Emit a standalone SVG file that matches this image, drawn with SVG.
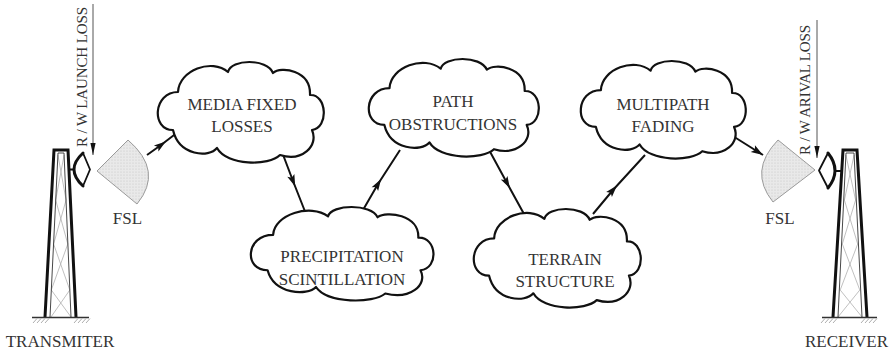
<svg xmlns="http://www.w3.org/2000/svg" xmlns:xlink="http://www.w3.org/1999/xlink" width="895" height="352" viewBox="0 0 895 352">
  <style>
    .lbl { font-family: "Liberation Serif", "Times New Roman", serif; font-size: 17px; fill: #333; text-anchor: middle; }
    .vlbl { font-family: "Liberation Serif", "Times New Roman", serif; font-size: 15px; fill: #333; }
    .cloud { fill: #fff; stroke: #111; stroke-width: 2.2; vector-effect: non-scaling-stroke; stroke-linejoin: round; }
    .conn { fill: none; stroke: #111; stroke-width: 2; }
    .leg { fill: none; stroke: #111; stroke-width: 3; stroke-linejoin: miter; }
    .inner { fill: none; stroke: #333; stroke-width: 0.9; }
    .lattice { fill: none; stroke: #b0b0b0; stroke-width: 0.8; }
    .ground { stroke: #333; stroke-width: 1.5; }
    .hatch { stroke: #999; stroke-width: 0.8; }
    .beam { fill: url(#stipple); stroke: #9a9a9a; stroke-width: 1; }
    .dishback { fill: none; stroke: #111; stroke-width: 3; stroke-linecap: round; }
    .dishfront { fill: none; stroke: #111; stroke-width: 1.8; stroke-linejoin: round; }
    .guide { stroke: #555; stroke-width: 1; }
  </style>
  <defs>
    <!-- generic cloud outline in a 166 x 100 box -->
    <path id="cloud" class="cloud" d="M16,68 C-6,68 -4,30 21,30 C22,8 55,-4 71,10 C74,-3 110,-4 116,11 C124,4 154,8 153,33 C170,32 172,66 155,68 C162,84 145,100 123,93 C112,104 70,104 60,86 C52,96 22,94 16,68 Z"/>
    <marker id="midArrow" markerUnits="userSpaceOnUse" markerWidth="14" markerHeight="10" orient="auto" overflow="visible">
      <path d="M-6,-3.8 L6,0 L-6,3.8 L-3.5,0 Z" fill="#111"/>
    </marker>
    <marker id="endArrow" markerUnits="userSpaceOnUse" markerWidth="14" markerHeight="10" orient="auto" overflow="visible">
      <path d="M-12,-4 L0,0 L-12,4 L-9.5,0 Z" fill="#111"/>
    </marker>
    <marker id="thinArrow" markerUnits="userSpaceOnUse" markerWidth="14" markerHeight="8" orient="auto" overflow="visible">
      <path d="M-12,-2.6 L0,0 L-12,2.6 Z" fill="#111"/>
    </marker>
    <pattern id="stipple" patternUnits="userSpaceOnUse" width="3" height="3">
      <rect width="3" height="3" fill="#e9e9e9"/>
      <circle cx="1" cy="1" r="0.6" fill="#c4c4c4"/>
    </pattern>
  </defs>

  <!-- transmitter tower -->
  <g id="transmitter">
    <polyline class="lattice" points="57.9,155 66.1,200 53.6,244 69.8,290 51,317"/>
    <polyline class="lattice" points="64.1,155 55.7,200 67.8,244 51.3,290 71,317"/>
    <polyline class="inner" points="50,317 58,153 64,153 71,317"/>
    <polyline class="leg" points="45,317 54,150 68,150 76,317"/>
    <line class="ground" x1="32" y1="317.5" x2="89" y2="317.5"/>
    <g class="hatch">
      <line x1="33" y1="323" x2="37" y2="318.5"/><line x1="37" y1="323" x2="41" y2="318.5"/>
      <line x1="41" y1="323" x2="45" y2="318.5"/><line x1="45" y1="323" x2="49" y2="318.5"/>
      <line x1="74" y1="323" x2="78" y2="318.5"/><line x1="78" y1="323" x2="82" y2="318.5"/>
      <line x1="82" y1="323" x2="86" y2="318.5"/><line x1="86" y1="323" x2="90" y2="318.5"/>
    </g>
    <line x1="68" y1="169.5" x2="74" y2="169.5" stroke="#111" stroke-width="2"/>
    <path class="dishback" d="M83,153 Q65,169.5 83,186"/>
    <path class="dishfront" d="M83,153 L90,169.5 L83,186"/>
    <text class="lbl" x="60" y="347">TRANSMITER</text>
  </g>

  <!-- launch loss indicator -->
  <g id="launch-loss">
    <line class="guide" x1="93" y1="4" x2="93" y2="155" marker-end="url(#thinArrow)"/>
    <text class="vlbl" transform="translate(87,147) rotate(-90)" textLength="140" lengthAdjust="spacing">R / W  LAUNCH LOSS</text>
  </g>

  <!-- transmit free space loss -->
  <g id="fsl-tx">
    <path class="beam" d="M97,171 L128,140 Q164,171 137,204 Z"/>
    <text class="lbl" x="127.5" y="224">FSL</text>
  </g>

  <!-- receiver tower -->
  <g id="receiver">
    <polyline class="lattice" points="845.9,155 855.6,200 842.3,244 859.8,290 838,317"/>
    <polyline class="lattice" points="854.1,155 844.4,200 857.7,244 840.2,290 862,317"/>
    <polyline class="inner" points="838,317 846,153 854,153 862,317"/>
    <polyline class="leg" points="833,317 843,150 857,150 867,317"/>
    <line class="ground" x1="822" y1="317.5" x2="877" y2="317.5"/>
    <g class="hatch">
      <line x1="821" y1="323" x2="825" y2="318.5"/><line x1="825" y1="323" x2="829" y2="318.5"/>
      <line x1="829" y1="323" x2="833" y2="318.5"/><line x1="833" y1="323" x2="837" y2="318.5"/>
      <line x1="861" y1="323" x2="865" y2="318.5"/><line x1="865" y1="323" x2="869" y2="318.5"/>
      <line x1="869" y1="323" x2="873" y2="318.5"/><line x1="873" y1="323" x2="877" y2="318.5"/>
    </g>
    <line x1="836" y1="171" x2="843" y2="171" stroke="#111" stroke-width="2"/>
    <path class="dishback" d="M828,153 Q842,170.5 828,188"/>
    <path class="dishfront" d="M828,153 L819,170.5 L828,188"/>
    <text class="lbl" x="846.5" y="347">RECEIVER</text>
  </g>

  <!-- arrival loss indicator -->
  <g id="arrival-loss">
    <line class="guide" x1="817" y1="20" x2="817" y2="158" marker-end="url(#thinArrow)"/>
    <text class="vlbl" transform="translate(810,155) rotate(-90)" textLength="130" lengthAdjust="spacing">R / W  ARIVAL LOSS</text>
  </g>

  <!-- receive free space loss -->
  <g id="fsl-rx">
    <path class="beam" d="M815,170 L778,140 Q748,171 773,202 Z"/>
    <text class="lbl" x="780" y="224">FSL</text>
  </g>

  <!-- connectors (drawn beneath the clouds) -->
  <g id="connectors">
    <path class="conn" d="M147,155 L161,145 L178,132" marker-mid="url(#midArrow)"/>
    <path class="conn" d="M282,152 L293,181 L306,214" marker-mid="url(#midArrow)"/>
    <path class="conn" d="M363,210 L378,184 L400,150" marker-mid="url(#midArrow)"/>
    <path class="conn" d="M488,148 L507,183 L524,214" marker-mid="url(#midArrow)"/>
    <path class="conn" d="M593,214 L613,190 L645,155" marker-mid="url(#midArrow)"/>
    <path class="conn" d="M728,133 L763,155" marker-end="url(#endArrow)"/>
  </g>

  <g id="media-fixed-losses">
    <use href="#cloud" transform="translate(157,62)"/>
    <text class="lbl" x="242" y="110">MEDIA FIXED</text>
    <text class="lbl" x="242" y="132">LOSSES</text>
  </g>

  <g id="path-obstructions">
    <use href="#cloud" transform="translate(368,59) scale(1.024,0.97)"/>
    <text class="lbl" x="453" y="107">PATH</text>
    <text class="lbl" x="453" y="130">OBSTRUCTIONS</text>
  </g>

  <g id="multipath-fading">
    <use href="#cloud" transform="translate(580,61) scale(0.994,0.97)"/>
    <text class="lbl" x="663" y="110">MULTIPATH</text>
    <text class="lbl" x="663" y="132">FADING</text>
  </g>

  <g id="precipitation-scintillation">
    <use href="#cloud" transform="translate(250,207) scale(1.1,0.93)"/>
    <text class="lbl" x="342" y="262">PRECIPITATION</text>
    <text class="lbl" x="342" y="285">SCINTILLATION</text>
  </g>

  <g id="terrain-structure">
    <use href="#cloud" transform="translate(473,209) scale(1.006,0.98)"/>
    <text class="lbl" x="565" y="265">TERRAIN</text>
    <text class="lbl" x="565" y="287">STRUCTURE</text>
  </g>
</svg>
